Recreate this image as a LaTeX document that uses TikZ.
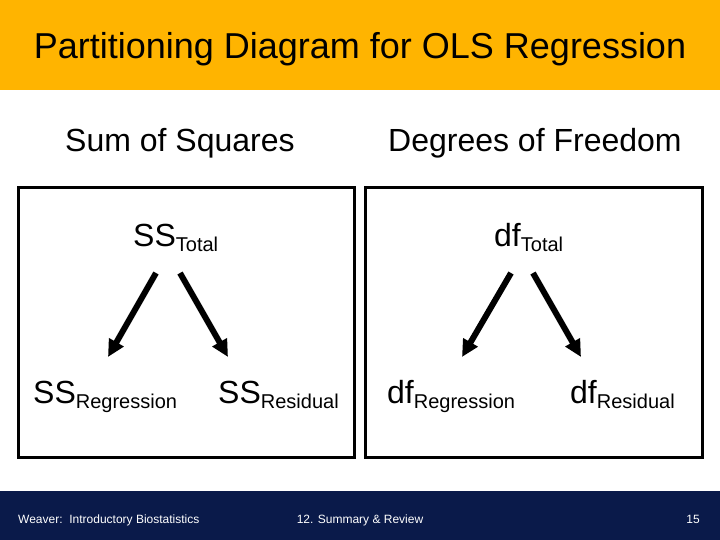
\documentclass[tikz,border=0pt]{standalone}
\usepackage{fontspec}
\setmainfont{Liberation Sans}
\usetikzlibrary{arrows.meta}

\definecolor{titlebar}{RGB}{255,180,0}
\definecolor{footbar}{RGB}{10,26,74}

\newcommand{\subtxt}[1]{\raisebox{-5pt}{\fontsize{20}{24}\selectfont #1}}

\begin{document}
\begin{tikzpicture}[x=1pt,y=-1pt,>={Triangle[length=17pt,width=16pt]},
  txt/.style={inner sep=0pt,anchor=base west,font=\fontsize{32}{38}\selectfont},
  foot/.style={inner sep=0pt,text=white,font=\fontsize{12}{14}\selectfont},
  frame/.style={draw,line width=3pt},
  split/.style={->,line width=6pt}]

\useasboundingbox (0,0) rectangle (720,540);
\fill[titlebar] (0,0) rectangle (720,90);
\fill[footbar] (0,491) rectangle (720,540);

\node[inner sep=0pt,anchor=base,font=\fontsize{36}{42}\selectfont] (title) at (360,59) {Partitioning Diagram for OLS Regression};

\node[txt] (hss) at (65,152) {Sum of Squares};
\node[txt] (hdf) at (388,152) {Degrees of Freedom};

\draw[frame] (18,188) rectangle (354,457);
\draw[frame] (365,188) rectangle (702,457);

% sums of squares
\node[txt] (sstot) at (133,247) {SS\subtxt{Total}};
\node[txt] (ssreg) at (33,403)  {SS\subtxt{Regression}};
\node[txt] (ssres) at (218,403) {SS\subtxt{Residual}};

% degrees of freedom
\node[txt] (dftot) at (494,247) {df\subtxt{Total}};
\node[txt] (dfreg) at (387,403) {df\subtxt{Regression}};
\node[txt] (dfres) at (570,403) {df\subtxt{Residual}};

\draw[split] ([xshift=23pt,yshift=-26pt]sstot.base west) -- ([xshift=75pt,yshift=46pt]ssreg.base west);
\draw[split] ([xshift=47pt,yshift=-26pt]sstot.base west) -- ([xshift=10pt,yshift=46pt]ssres.base west);
\draw[split] ([xshift=17pt,yshift=-26pt]dftot.base west) -- ([xshift=75pt,yshift=46pt]dfreg.base west);
\draw[split] ([xshift=39pt,yshift=-26pt]dftot.base west) -- ([xshift=11pt,yshift=46pt]dfres.base west);

\node[foot,anchor=base west] (author) at (18,523) {Weaver:\ \ Introductory Biostatistics};
\node[foot,anchor=base] (chapter) at (360,523) {12. Summary \& Review};
\node[foot,anchor=base east] (page) at (700,523) {15};

\end{tikzpicture}
\end{document}
